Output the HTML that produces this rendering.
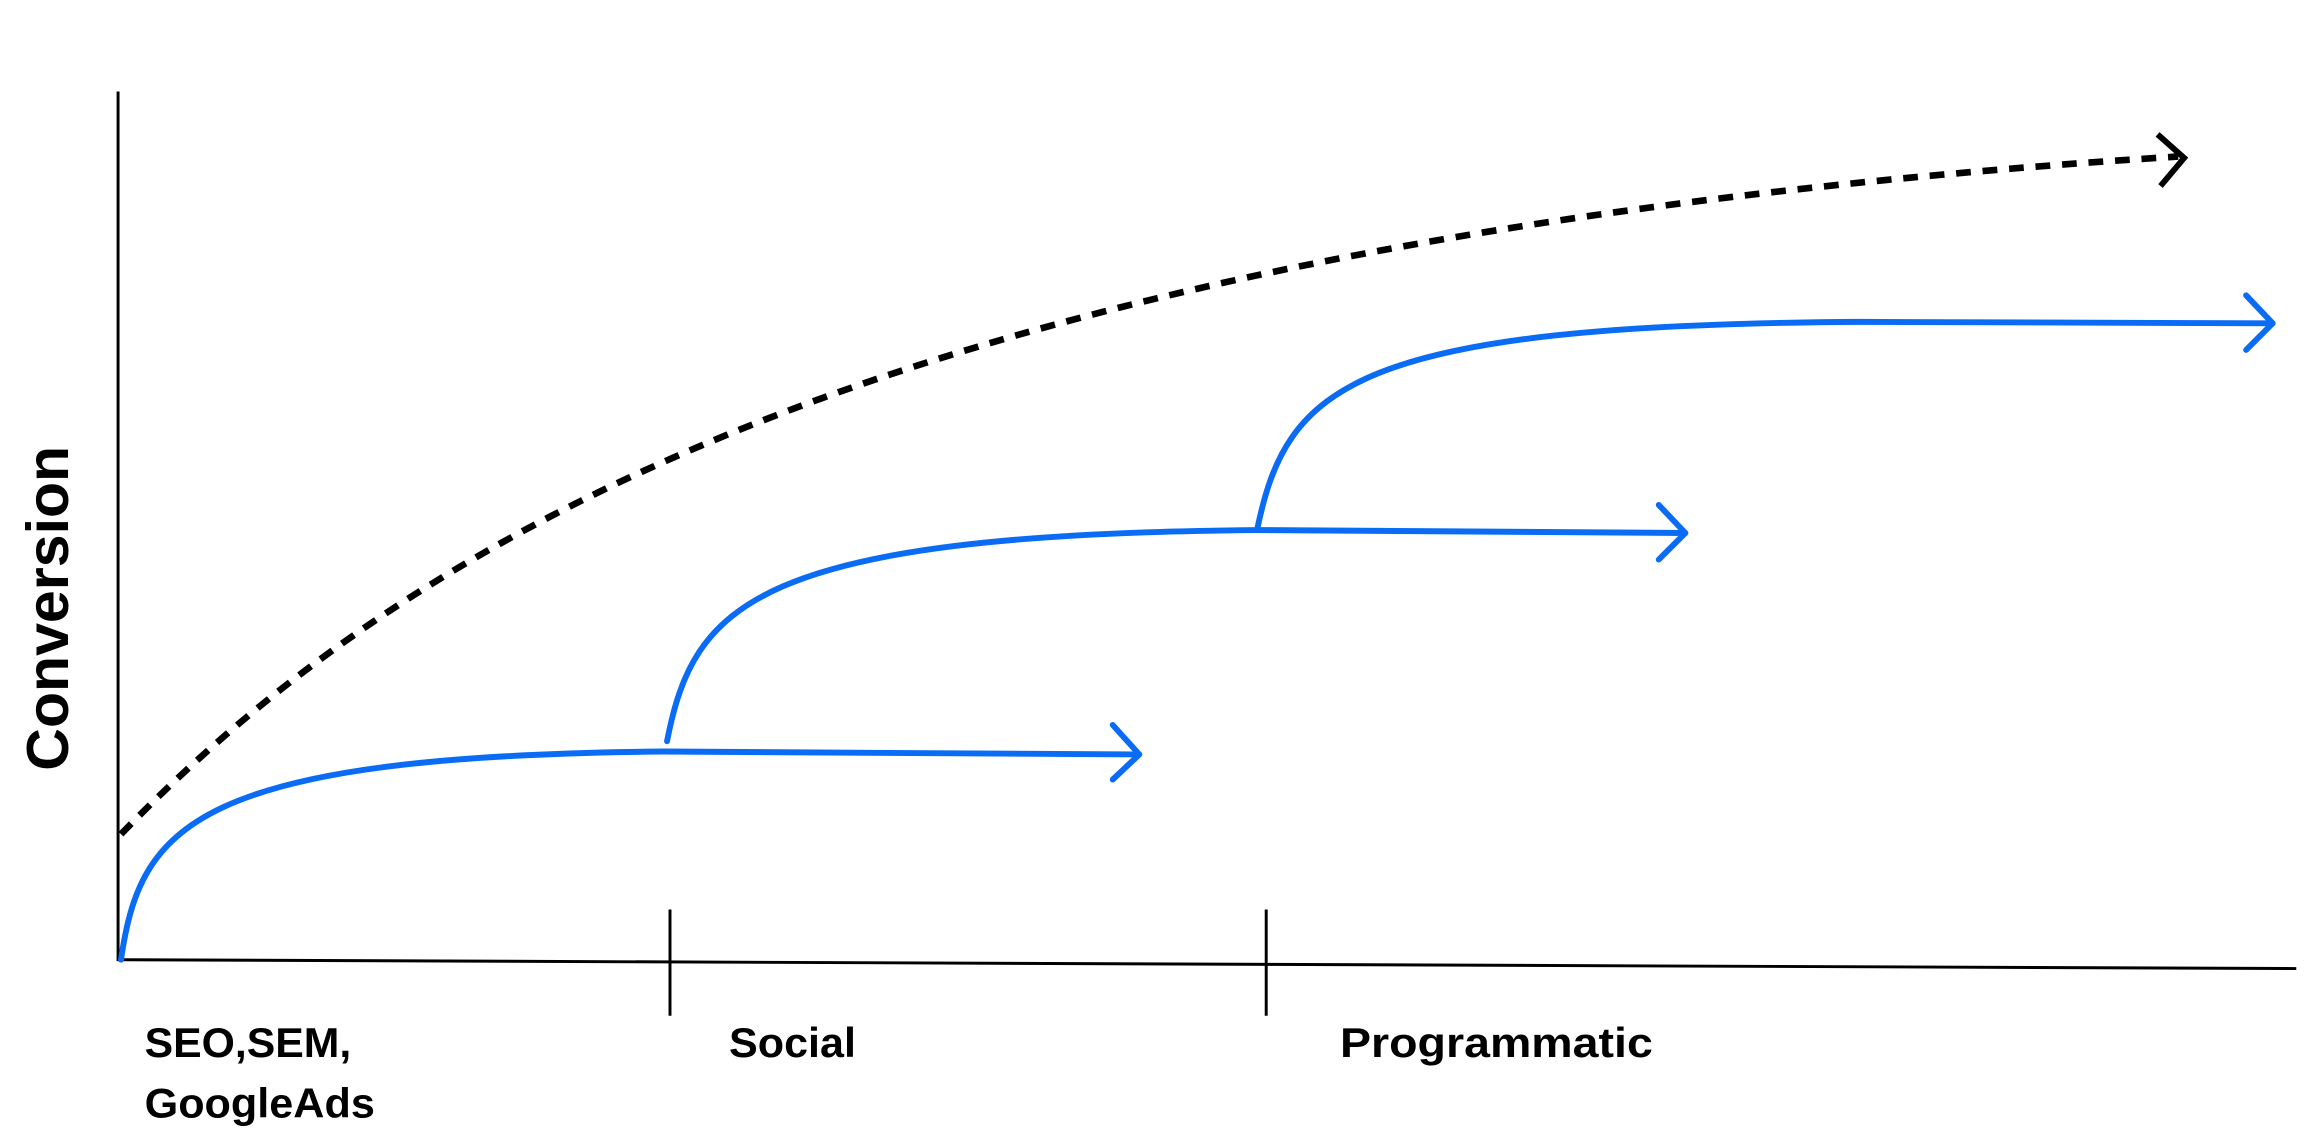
<!DOCTYPE html>
<html><head><meta charset="utf-8"><style>
html,body{margin:0;padding:0;background:#fff;}
svg{display:block;}
text{font-family:"Liberation Sans",sans-serif;font-weight:bold;fill:#000;}
</style></head><body>
<svg width="2314" height="1128" viewBox="0 0 1568 764" preserveAspectRatio="none" xmlns="http://www.w3.org/2000/svg">
<line x1="80" y1="62" x2="80" y2="651" stroke="#000" stroke-width="2"/>
<line x1="80" y1="650" x2="1556" y2="656" stroke="#000" stroke-width="2"/>
<line x1="454" y1="616" x2="454" y2="688" stroke="#000" stroke-width="2"/>
<line x1="858" y1="616" x2="858" y2="688" stroke="#000" stroke-width="2"/>
<path d="M82,565 C280,360 620,160 1476,106" fill="none" stroke="#000" stroke-width="4.5" stroke-dasharray="10,8"/>
<polyline points="1462,91 1480,107 1464,126" fill="none" stroke="#000" stroke-width="4"/>
<g fill="none" stroke="#0a6cf5" stroke-width="4" stroke-linecap="round" stroke-linejoin="round">
<path d="M82,650 C95,560 130,512 450,509 L772,511"/>
<path d="M754,491 L772,511 L754,528"/>
<path d="M452,502 C470,410 510,362 852,359 L1142,361"/>
<path d="M1124,342 L1142,361 L1124,379"/>
<path d="M852,358 C872,262 915,220 1260,218 L1540,219"/>
<path d="M1522,200 L1540,219 L1522,237"/>
</g>
<text x="98" y="716" font-size="28" textLength="140" lengthAdjust="spacingAndGlyphs">SEO,SEM,</text>
<text x="98" y="757" font-size="28" textLength="156" lengthAdjust="spacingAndGlyphs">GoogleAds</text>
<text x="494" y="716" font-size="28" textLength="86" lengthAdjust="spacingAndGlyphs">Social</text>
<text x="908" y="716" font-size="28" textLength="212" lengthAdjust="spacingAndGlyphs">Programmatic</text>
<text transform="translate(46,412) rotate(-90)" text-anchor="middle" font-size="40">Conversion</text>
</svg>
</body></html>
